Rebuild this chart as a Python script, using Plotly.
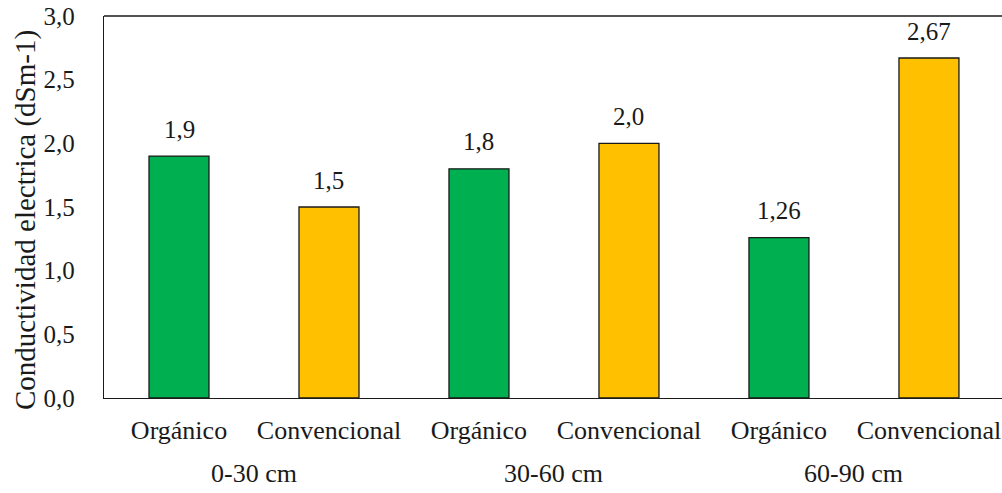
import plotly.graph_objects as go

# Electrical conductivity by management system and soil depth
depths = ["0-30 cm", "30-60 cm", "60-90 cm"]
systems = ["Orgánico", "Convencional"]
organico = [1.9, 1.8, 1.26]
convencional = [1.5, 2.0, 2.67]

y_ticks = [0.0, 0.5, 1.0, 1.5, 2.0, 2.5, 3.0]
y_title = "Conductividad electrica (dSm-1)"

GREEN = "#00B050"
YELLOW = "#FFC000"
INK = "#1a1a1a"
FONT = "'Liberation Serif', 'Times New Roman', 'DejaVu Serif', serif"


def fmt(v):
    return str(v).replace(".", ",")


values, colors, ticktext = [], [], []
for o, c in zip(organico, convencional):
    values += [o, c]
    colors += [GREEN, YELLOW]
    ticktext += systems

xs = list(range(len(values)))

fig = go.Figure()
fig.add_trace(go.Bar(
    x=xs,
    y=values,
    width=0.4,
    marker=dict(color=colors, line=dict(color=INK, width=1.3)),
    hoverinfo="skip",
))

# value labels above each bar
for x, v in zip(xs, values):
    fig.add_annotation(
        x=x, y=v, text=fmt(v), showarrow=False,
        yanchor="middle", yshift=27,
        font=dict(family=FONT, size=25, color=INK),
    )

# depth group labels below the category labels
for i, d in enumerate(depths):
    fig.add_annotation(
        x=2 * i + 0.5, y=0, yref="y", text=d, showarrow=False,
        yanchor="middle", yshift=-75,
        font=dict(family=FONT, size=26, color=INK),
    )

# vertical axis title
fig.add_annotation(
    x=0, xref="paper", y=0.5, yref="paper", text=y_title, showarrow=False,
    textangle=-90, xanchor="center", yanchor="middle", xshift=-79, yshift=-13,
    font=dict(family=FONT, size=29, color=INK),
)

fig.update_layout(
    width=1002,
    height=493,
    margin=dict(l=104, r=0, t=16, b=95),
    paper_bgcolor="white",
    plot_bgcolor="white",
    showlegend=False,
    font=dict(family=FONT, size=25, color=INK),
    xaxis=dict(
        range=[-0.5, 5.487],
        tickvals=xs,
        ticktext=ticktext,
        showgrid=False,
        zeroline=False,
        showline=True,
        linecolor=INK,
        linewidth=1.3,
        ticks="",
        ticklabelstandoff=9,
        tickfont=dict(family=FONT, size=26, color=INK),
    ),
    yaxis=dict(
        range=[0, 3.0],
        tickvals=y_ticks,
        ticktext=[f"{t:.1f}".replace(".", ",") for t in y_ticks],
        showgrid=False,
        zeroline=False,
        showline=True,
        linecolor=INK,
        linewidth=1.3,
        ticks="",
        ticklabelstandoff=23,
        tickfont=dict(family=FONT, size=25, color=INK),
    ),
    shapes=[dict(type="line", xref="paper", yref="paper", x0=0, x1=1, y0=1, y1=1,
                 line=dict(color=INK, width=1.3))],
)

fig.write_html("out.html")
